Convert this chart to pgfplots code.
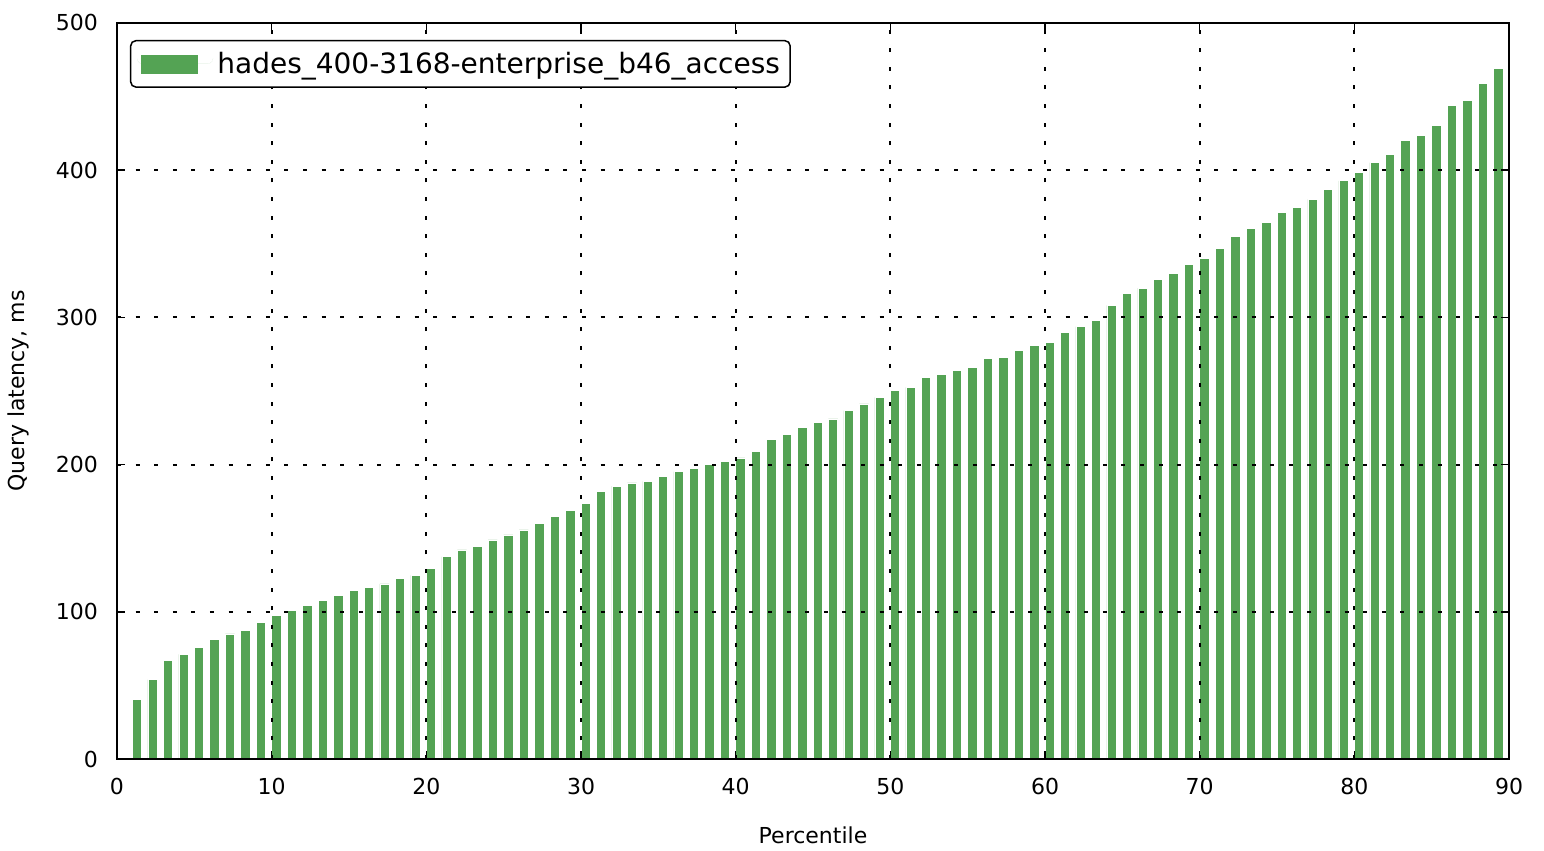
\documentclass[border=0pt]{standalone}
\usepackage{fontspec}
\setmainfont{DejaVu Sans}
\usepackage{pgfplots}
\pgfplotsset{compat=1.18}
\definecolor{barg}{RGB}{84,163,84}
\begin{document}
\begin{tikzpicture}
\begin{axis}[
  scale only axis,
  width=696pt, height=368pt,
  xmin=0, xmax=90, ymin=0, ymax=500,
  xtick={0,10,...,90}, ytick={0,100,...,500},
  tick align=inside,
  major tick length=4pt,
  tick style={black, line width=0.8pt},
  axis line style={black, line width=1pt},
  grid=major,
  major grid style={black, line width=1pt, dash pattern=on 2pt off 7.3pt},
  axis on top,
  /pgf/number format/assume math mode=true,
  ticklabel style={font=\fontsize{11}{13}\selectfont},
  yticklabel style={xshift=-6pt},
  xticklabel style={yshift=-6pt},
  xlabel={Percentile},
  ylabel={Query latency, ms},
  label style={font=\fontsize{11}{13}\selectfont},
  xlabel style={at={(axis description cs:0.5,-0.1033)}, anchor=center},
  ylabel style={at={(axis description cs:-0.0711,0.5)}, anchor=center},
  legend style={at={(0,1)}, anchor=north west, xshift=6.5pt, yshift=-8.5pt,
    draw=black, line width=0.75pt, rounded corners=2.5pt,
    font=\fontsize{14}{16}\selectfont, inner xsep=3pt, inner ysep=3.5pt},
  legend image code/.code={
    \path (0pt,0pt) rectangle (38pt,0pt);
    \fill[barg, sharp corners] (2pt,-4.5pt) rectangle (30pt,4.5pt);},
]
\addplot[ybar, bar width=0.6, bar shift=0.3, fill=barg, draw=white, line width=0.3pt] coordinates {
(1,40.5) (2,54) (3,67) (4,71) (5,76) (6,81.5) (7,85) (8,87.5) (9,93) (10,97.5)
(11,100.7) (12,104.4) (13,107.8) (14,111.2) (15,114.6) (16,116.8) (17,119) (18,122.5) (19,124.8) (20,129.5)
(21,137.4) (22,142) (23,144.2) (24,148.8) (25,152.2) (26,155.6) (27,160) (28,164.6) (29,169) (30,173.7)
(31,181.9) (32,185.3) (33,187.5) (34,188.6) (35,191.8) (36,195.2) (37,197.5) (38,200.2) (39,202.2) (40,204.6)
(41,209.2) (42,217.2) (43,220.6) (44,225.3) (45,228.7) (46,231) (47,236.6) (48,241.2) (49,245.7) (50,250.5)
(51,252.5) (52,259.3) (53,261.5) (54,264) (55,266.1) (56,272) (57,273) (58,277.6) (59,281) (60,283.2)
(61,290) (62,293.7) (63,298) (64,308.2) (65,316.4) (66,319.8) (67,325.6) (68,330) (69,335.8) (70,340.1)
(71,347.1) (72,355.1) (73,360.7) (74,364.3) (75,371.1) (76,374.5) (77,380.2) (78,387) (79,392.8) (80,398.3)
(81,405.1) (82,410.7) (83,420) (84,423.4) (85,430.2) (86,443.8) (87,447.2) (88,458.8) (89,469)
};
\addlegendentry{hades\_400-3168-enterprise\_b46\_access}
\end{axis}
\path (current axis.south west) ++(-58.5pt,-44.5pt) coordinate (bbA);
\path (current axis.north east) ++(17.5pt,11.5pt) coordinate (bbB);
\path (bbA) rectangle (bbB);
\end{tikzpicture}
\end{document}
